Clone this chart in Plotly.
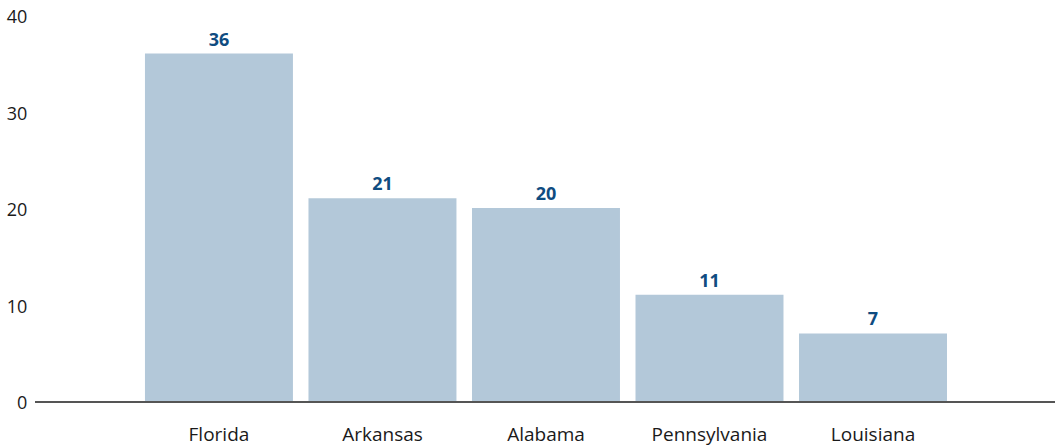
import plotly.graph_objects as go

states = ["Florida", "Arkansas", "Alabama", "Pennsylvania", "Louisiana"]
values = [36, 21, 20, 11, 7]
y_ticks = [0, 10, 20, 30, 40]

BAR = "#b3c8d9"
LABEL = "#0f4c81"
TXT = "#1a1a1a"
FONT = "Open Sans, Noto Sans, sans-serif"

fig = go.Figure(go.Bar(
    x=states, y=values,
    marker=dict(color=BAR, line=dict(width=0)),
    text=[str(v) for v in values],
    textposition="outside",
    textfont=dict(family=FONT, size=18, color=LABEL, weight="bold"),
    cliponaxis=False,
))

fig.update_layout(
    width=1055, height=446,
    margin=dict(l=35, r=0, t=15, b=45, autoexpand=False),
    paper_bgcolor="white", plot_bgcolor="white",
    bargap=0.095,
    showlegend=False,
    font=dict(family=FONT, size=18, color=TXT),
)
fig.update_xaxes(
    range=[-1.125, 5.113],
    showline=True, linecolor="#555555", linewidth=2,
    ticks="outside", ticklen=15, tickcolor="rgba(0,0,0,0)",
    tickfont=dict(family=FONT, size=19, color=TXT),
    showgrid=False, zeroline=False, automargin=False,
    ticklabeloverflow="allow",
)
fig.update_yaxes(
    range=[0, 40], tickvals=y_ticks,
    showgrid=False, zeroline=False, showline=False,
    ticks="outside", ticklen=3, tickcolor="rgba(0,0,0,0)",
    tickfont=dict(family=FONT, size=18, color=TXT),
    automargin=False, ticklabeloverflow="allow",
    ticklabelshift=2,
)

fig.write_html(
    "out.html",
    config={"displayModeBar": False},
    post_script="document.body.style.margin='0';document.body.style.overflow='hidden';",
)
